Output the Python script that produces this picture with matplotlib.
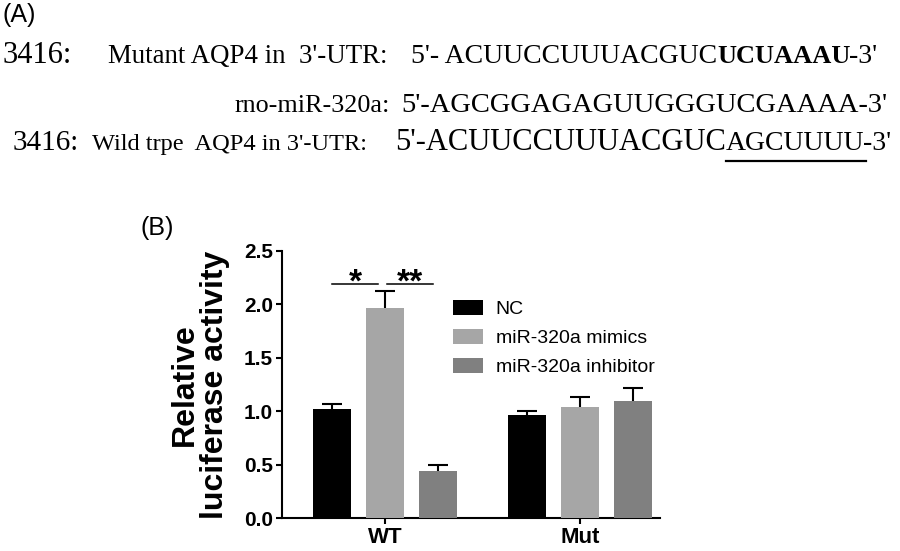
import numpy as np
import matplotlib
matplotlib.use('Agg')
import matplotlib.pyplot as plt
from matplotlib.lines import Line2D

# data
groups = ['WT', 'Mut']
series = ['NC', 'miR-320a mimics', 'miR-320a inhibitor']
colors = ['#000000', '#a6a6a6', '#808080']
means = [[1.02, 0.96],
         [1.97, 1.04],
         [0.44, 1.10]]
errs = [[0.05, 0.04],
        [0.16, 0.09],
        [0.06, 0.12]]
yticks = [0.0, 0.5, 1.0, 1.5, 2.0, 2.5]
sig_y = 2.19
sig_marks = ['*', '**']

W, H = 900, 551
fig = plt.figure(figsize=(9, 5.51), dpi=100)

def fx(px):
    return px / W

def fy(py):
    return 1 - py / H

serif = 'Liberation Serif'
sans = 'Liberation Sans'

# ---- panel A: sequence text ----
fig.text(fx(2), fy(15), '(A)', family=sans, fontsize=18, va='center', ha='left')

# line 1
fig.text(fx(3), fy(63), '3416:', family=serif, fontsize=22, va='baseline', ha='left')
fig.text(fx(108), fy(63), "Mutant AQP4 in  3'-UTR:", family=serif, fontsize=19.4, va='baseline', ha='left')
fig.text(fx(717), fy(63), "5'- ACUUCCUUUACGUC", family=serif, fontsize=20, va='baseline', ha='right')
fig.text(fx(717), fy(63), 'UCUAAAU', family=serif, fontsize=19, fontweight='bold', va='baseline', ha='left')
fig.text(fx(849), fy(63), "-3'", family=serif, fontsize=20, va='baseline', ha='left')

# line 2
fig.text(fx(235), fy(112), 'rno-miR-320a:', family=serif, fontsize=18.8, va='baseline', ha='left')
fig.text(fx(887), fy(112), "5'-AGCGGAGAGUUGGGUCGAAAA-3'", family=serif, fontsize=20.5, va='baseline', ha='right')

# line 3
fig.text(fx(13), fy(150), '3416:', family=serif, fontsize=21, va='baseline', ha='left')
fig.text(fx(92), fy(150), "Wild trpe  AQP4 in 3'-UTR:", family=serif, fontsize=17.6, va='baseline', ha='left')
fig.text(fx(726), fy(150), "5'-ACUUCCUUUACGUC", family=serif, fontsize=22, va='baseline', ha='right')
fig.text(fx(726), fy(150), 'AGCUUUU', family=serif, fontsize=20, va='baseline', ha='left')
fig.text(fx(891), fy(150), "-3'", family=serif, fontsize=20, va='baseline', ha='right')
fig.add_artist(Line2D([fx(726), fx(866)], [fy(161), fy(161)], color='black', lw=1.6))

# ---- panel B: bar chart ----
fig.text(fx(141), fy(228), '(B)', family=sans, fontsize=18, va='center', ha='left')

ax = fig.add_axes([fx(282), fy(518), fx(660) - fx(282), fy(251) - fy(518)])

x = np.arange(len(groups))
width = 0.195
offset = 0.272
for i, name in enumerate(series):
    pos = x + (i - 1) * offset
    ax.bar(pos, means[i], width, color=colors[i], label=name, zorder=3)
    ax.errorbar(pos, means[i], yerr=errs[i], fmt='none', ecolor='black',
                elinewidth=1.5, capsize=7, capthick=1.5, zorder=2)

# significance brackets over WT
ax.plot([-offset, -0.035], [sig_y, sig_y], color='black', lw=1.1)
ax.plot([0.01, offset - 0.025], [sig_y, sig_y], color='black', lw=1.1)
ax.text((-offset - 0.035) / 2, sig_y + 0.01, sig_marks[0], ha='center', va='center',
        family=sans, fontsize=24, fontweight='bold')
ax.text((0.01 + offset - 0.025) / 2, sig_y + 0.01, sig_marks[1], ha='center', va='center',
        family=sans, fontsize=24, fontweight='bold')

ax.set_xlim(-0.528, 1.41)
ax.set_ylim(0, 2.5)
ax.set_yticks(yticks)
ax.set_yticklabels(['%.1f' % v for v in yticks], family=sans, fontsize=15, fontweight='bold')
ax.set_xticks(x)
ax.set_xticklabels(groups, family=sans, fontsize=16, fontweight='bold')
ax.spines['top'].set_visible(False)
ax.spines['right'].set_visible(False)
for s in ['left', 'bottom']:
    ax.spines[s].set_linewidth(1.5)
ax.tick_params(axis='both', width=1.5, length=4.5, color='black', pad=2)
ax.set_ylabel('Relative\nluciferase activity', family=sans, fontsize=23,
              fontweight='bold', labelpad=10, linespacing=1.0)

leg = ax.legend(loc='upper left', bbox_to_anchor=(fx(453), fy(300)),
                bbox_transform=fig.transFigure, frameon=False, borderpad=0,
                prop={'family': sans, 'size': 14}, handlelength=1.55,
                handleheight=0.82, handletextpad=0.65, labelspacing=0.55,
                borderaxespad=0)

fig.savefig('out.png', dpi=100)
